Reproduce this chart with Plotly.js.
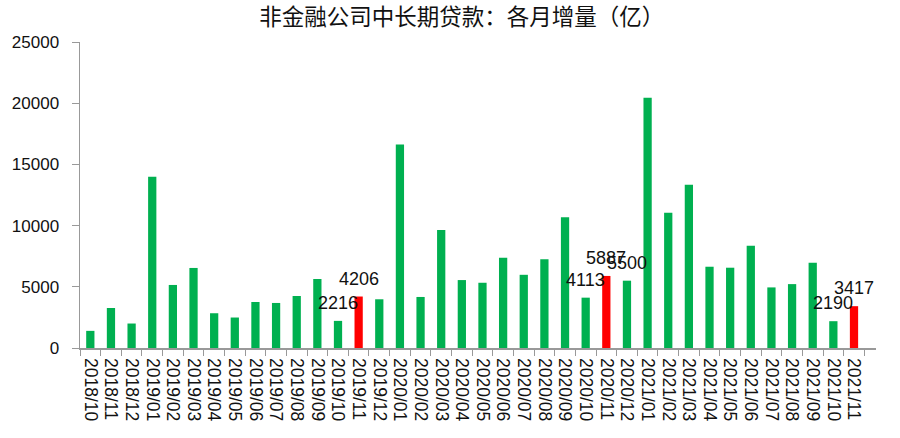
<!DOCTYPE html>
<html>
<head>
<meta charset="utf-8">
<script src="https://cdn.plot.ly/plotly-3.0.1.min.js"></script>
<style>
  html, body { margin: 0; padding: 0; background: #fff; }
  #chart { width: 900px; height: 438px; }
</style>
</head>
<body>
<div id="chart"></div>
<script>
// months on the x axis
var months = [
  '2018/10', '2018/11', '2018/12',
  '2019/01', '2019/02', '2019/03', '2019/04', '2019/05', '2019/06',
  '2019/07', '2019/08', '2019/09', '2019/10', '2019/11', '2019/12',
  '2020/01', '2020/02', '2020/03', '2020/04', '2020/05', '2020/06',
  '2020/07', '2020/08', '2020/09', '2020/10', '2020/11', '2020/12',
  '2021/01', '2021/02', '2021/03', '2021/04', '2021/05', '2021/06',
  '2021/07', '2021/08', '2021/09', '2021/10', '2021/11'
];

// monthly increase, 亿
var values = [
  1400, 3270, 2000,
  14000, 5150, 6540, 2840, 2490, 3760,
  3680, 4250, 5640, 2216, 4206, 3980,
  16630, 4170, 9650, 5550, 5330, 7380,
  5980, 7250, 10690, 4113, 5887, 5500,
  20440, 11040, 13340, 6640, 6560, 8360,
  4950, 5220, 6970, 2190, 3417
];

// November bars are highlighted
var highlight = ['2019/11', '2020/11', '2021/11'];

// months that carry a value label
var labelled = ['2019/10', '2019/11', '2020/10', '2020/11', '2020/12', '2021/10', '2021/11'];

var colors = months.map(function (m) {
  return highlight.indexOf(m) >= 0 ? '#ff0000' : '#00b050';
});

var annotations = labelled.map(function (m) {
  var i = months.indexOf(m);
  return {
    x: m,
    y: values[i],
    xref: 'x',
    yref: 'y',
    text: String(values[i]),
    showarrow: false,
    yanchor: 'bottom',
    yshift: 6,
    font: { family: 'Liberation Sans, Arial, sans-serif', size: 18, color: '#111' }
  };
});

var data = [{
  type: 'bar',
  x: months,
  y: values,
  marker: { color: colors, line: { width: 0 } },
  hoverinfo: 'x+y'
}];

var layout = {
  width: 900,
  height: 438,
  margin: { l: 80, r: 24, t: 42, b: 90 },
  paper_bgcolor: '#fff',
  plot_bgcolor: '#fff',
  showlegend: false,
  bargap: 0.6,
  font: { family: 'Liberation Sans, Arial, sans-serif', size: 18, color: '#111' },
  title: {
    text: '非金融公司中长期贷款：各月增量（亿）',
    font: { family: 'Noto Sans CJK SC, sans-serif', size: 22.5, color: '#111' },
    x: 0.513,
    xanchor: 'center',
    xref: 'container',
    y: 0.96,
    yref: 'container',
    yanchor: 'middle'
  },
  xaxis: {
    type: 'category',
    tickmode: 'array',
    tickvals: months,
    ticktext: months,
    tickangle: 90,
    tickson: 'boundaries',
    ticks: 'outside',
    ticklen: 6,
    tickcolor: '#999',
    showline: true,
    linecolor: '#999',
    linewidth: 1.5,
    showgrid: false,
    zeroline: false,
    ticklabelstandoff: 5,
    tickfont: { size: 17.5, color: '#111' }
  },
  yaxis: {
    range: [0, 25000],
    dtick: 5000,
    tickformat: 'd',
    ticks: 'outside',
    ticklen: 7,
    tickcolor: '#999',
    showline: true,
    linecolor: '#999',
    linewidth: 1.5,
    showgrid: false,
    zeroline: false,
    ticklabelstandoff: 9,
    tickfont: { size: 17, color: '#111' }
  },
  annotations: annotations
};

Plotly.newPlot('chart', data, layout, { displayModeBar: false, staticPlot: true });
</script>
</body>
</html>
